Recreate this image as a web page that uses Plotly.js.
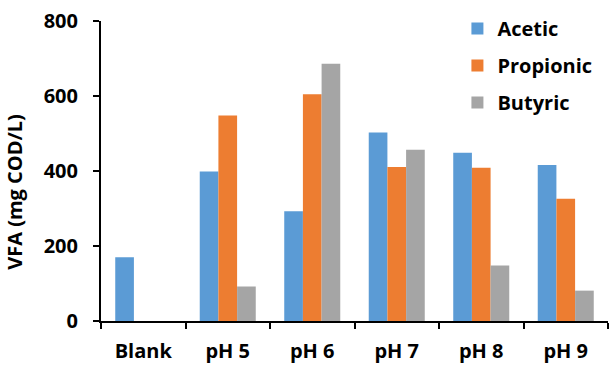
<!DOCTYPE html>
<html><head><meta charset="utf-8">
<script src="https://cdn.plot.ly/plotly-3.0.1.min.js"></script>
<style>html,body{margin:0;padding:0;background:#fff}#chart{width:615px;height:388px}</style>
</head><body><div id="chart"></div>
<script>
const categories = ["Blank", "pH 5", "pH 6", "pH 7", "pH 8", "pH 9"];
const acetic = [170, 399, 293, 503, 449, 416];
const propionic = [null, 548, 605, 411, 409, 326];
const butyric = [null, 92, 686, 457, 148, 81];
const seriesNames = ["Acetic", "Propionic", "Butyric"];
const colors = ["#5B9BD5", "#ED7D31", "#A5A5A5"];
const yTicks = [0, 200, 400, 600, 800];
const yTitle = "VFA (mg COD/L)";

const FONT = "'Open Sans', Lato, sans-serif";
const F = {family: FONT, size: 20, weight: 700, color: "#000"};
const data = [acetic, propionic, butyric].map((vals, i) => ({
  type: "bar", x: categories, y: vals, name: seriesNames[i],
  legendgroup: "g" + i,
  marker: {color: colors[i], line: {width: 0}}
}));

const layout = {
  width: 615, height: 388,
  margin: {l: 101, r: 7, t: 21, b: 67},
  paper_bgcolor: "#fff", plot_bgcolor: "#fff",
  barmode: "group", bargap: 0.337, bargroupgap: 0,
  font: F,
  xaxis: {
    type: "category", showline: true, linecolor: "#000", linewidth: 2,
    ticks: "outside", tickson: "boundaries", ticklen: 6, tickwidth: 2, tickcolor: "#000",
    ticklabelstandoff: 11,
    tickfont: F, showgrid: false, zeroline: false
  },
  yaxis: {
    range: [0, 800], tickvals: yTicks, showline: true, linecolor: "#000", linewidth: 2,
    ticks: "outside", ticklen: 6, tickwidth: 2, tickcolor: "#000",
    ticklabelstandoff: 11,
    tickfont: F, showgrid: false, zeroline: false
  },
  annotations: [{
    text: yTitle, textangle: -90, xref: "paper", yref: "paper",
    x: -0.172, y: 0.43, xanchor: "center", yanchor: "middle", showarrow: false,
    font: F
  }],
  legend: {
    x: 0.703, y: 1.04, xanchor: "left", yanchor: "top",
    bgcolor: "rgba(0,0,0,0)", traceorder: "grouped", tracegroupgap: 8,
    font: F
  },
  showlegend: true
};
Plotly.newPlot("chart", data, layout, {staticPlot: true, displayModeBar: false});
</script></body></html>
